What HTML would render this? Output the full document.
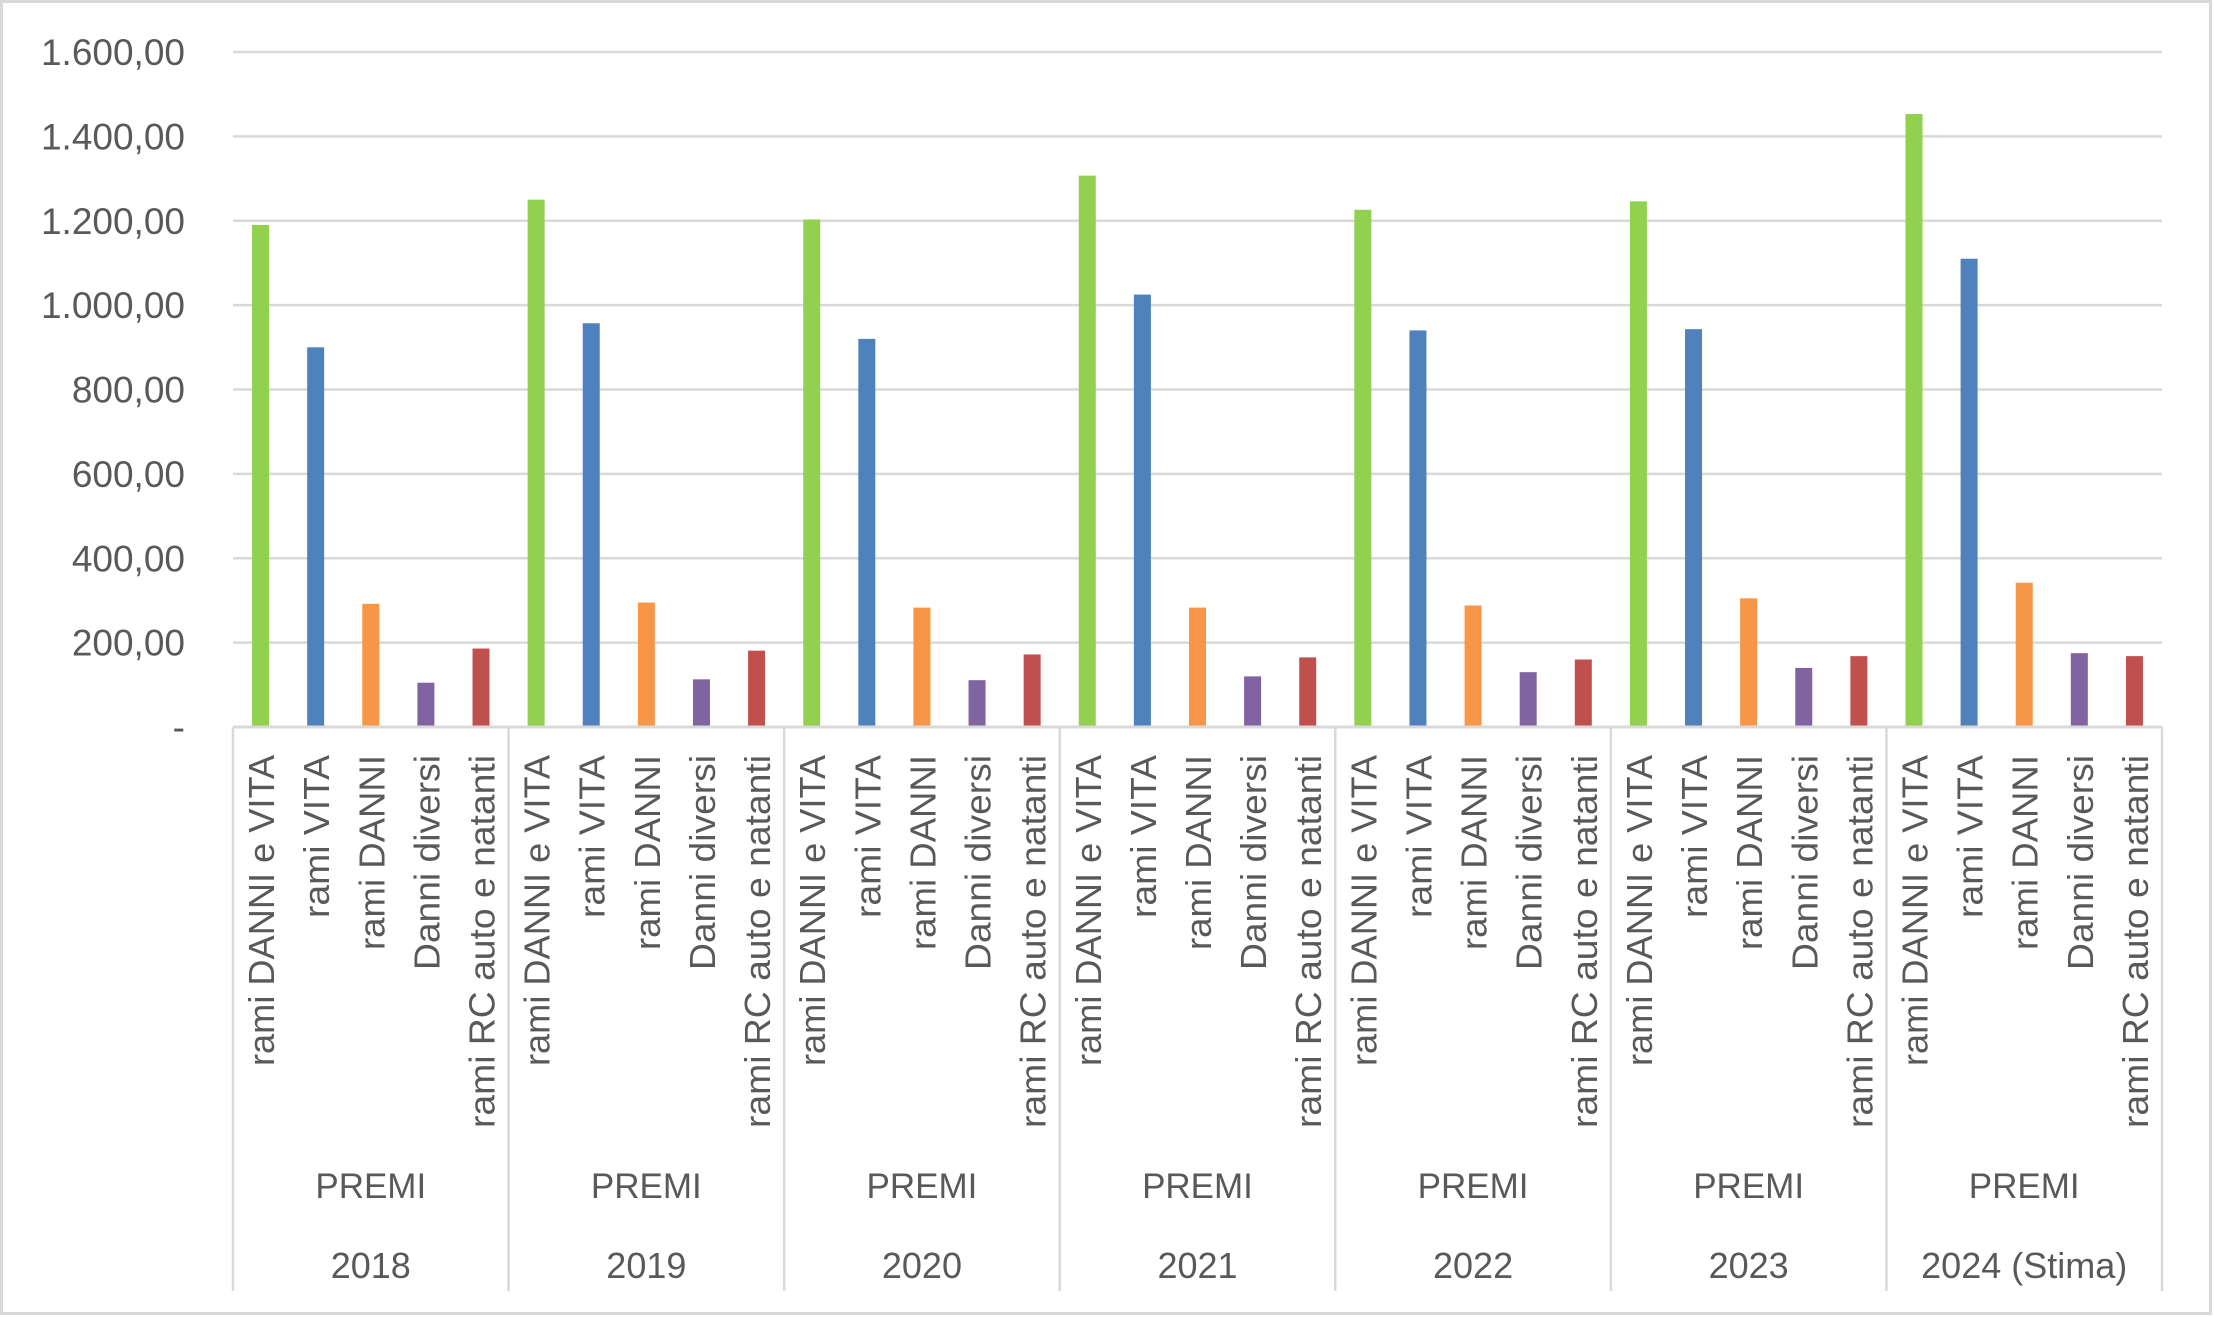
<!DOCTYPE html>
<html><head><meta charset="utf-8"><style>
html,body{margin:0;padding:0;background:#fff}
svg{display:block;font-family:"Liberation Sans",sans-serif}
</style></head><body>
<svg id="chart" width="2214" height="1317" viewBox="0 0 2214 1317" xmlns="http://www.w3.org/2000/svg">
<rect x="1.5" y="1.5" width="2209" height="1312" fill="#fff" stroke="#d9d9d9" stroke-width="3"/>
<g id="grid"></g><g id="bars"></g><g id="xaxis"></g><g id="yaxis"></g>
</svg>
<script>
const years = ["2018","2019","2020","2021","2022","2023","2024 (Stima)"];
const categories = ["rami DANNI e VITA","rami VITA","rami DANNI","Danni diversi","rami RC auto e natanti"];
const seriesDanniVita = [1190,1250,1203,1307,1226,1246,1453];
const seriesVita = [900,957,920,1025,940,943,1110];
const seriesDanni = [292,295,283,283,288,305,342];
const seriesDiversi = [105,113,111,120,130,140,175];
const seriesRC = [186,181,172,165,160,168,168];
const yTicks = [0,200,400,600,800,1000,1200,1400,1600];
const yTickLabels = ["-","200,00","400,00","600,00","800,00","1.000,00","1.200,00","1.400,00","1.600,00"];

const colors = ["#92d050","#4f81bd","#f79646","#8064a2","#c0504d"];
const series = [seriesDanniVita,seriesVita,seriesDanni,seriesDiversi,seriesRC];
const labelLens = [311,163,195,215,373];
const NS="http://www.w3.org/2000/svg";
const x0=233, x1=2162, yBase=727, yTop=52, yMax=1600;
const y = v => yBase - (v/yMax)*(yBase-yTop);
const groupW=(x1-x0)/years.length, slotW=groupW/categories.length;
function mk(tag,attrs,parent){const e=document.createElementNS(NS,tag);for(const k in attrs)e.setAttribute(k,attrs[k]);parent.appendChild(e);return e;}
const grid=document.getElementById('grid'), bars=document.getElementById('bars'), xa=document.getElementById('xaxis'), ya=document.getElementById('yaxis');
yTicks.forEach((t,i)=>{
  if(t>0){const l=mk('line',{x1:x0,x2:x1,y1:y(t),y2:y(t),stroke:'#d9d9d9','stroke-width':2.5},grid);
  
  }
  const tx=mk('text',{x:185,y:y(t)+13,'text-anchor':'end','font-size':37,fill:'#595959'},ya);
  tx.textContent=yTickLabels[i];
  
  
});
years.forEach((yr,g)=>{
  const gx=x0+g*groupW;
  series.forEach((s,c)=>{
    const cx=gx+(c+0.5)*slotW;
    const r=mk('rect',{x:cx-8.5,y:y(s[g]),width:17,height:yBase-y(s[g]),fill:colors[c]},bars);
    
    
    const t=mk('text',{transform:`translate(${cx+1},755) rotate(-90)`,'text-anchor':'end','dominant-baseline':'central','font-size':36,fill:'#595959',textLength:labelLens[c],lengthAdjust:'spacingAndGlyphs'},xa);
    t.textContent=categories[c];
    
    
  });
  const p=mk('text',{x:gx+groupW/2,y:1198,'text-anchor':'middle','font-size':35,fill:'#595959'},xa);
  p.textContent='PREMI';
  
  
  const yt=mk('text',{x:gx+groupW/2,y:1278,'text-anchor':'middle','font-size':36,fill:'#595959'},xa);
  yt.textContent=yr;
  
  
});
for(let g=0;g<=years.length;g++){
  const gx=x0+g*groupW;
  const l=mk('line',{x1:gx,x2:gx,y1:yBase,y2:1291,stroke:'#d9d9d9','stroke-width':2.5},xa);
  
  
}
const ax=mk('line',{x1:x0,x2:x1,y1:yBase,y2:yBase,stroke:'#d9d9d9','stroke-width':3},xa);


</script>
</body></html>
